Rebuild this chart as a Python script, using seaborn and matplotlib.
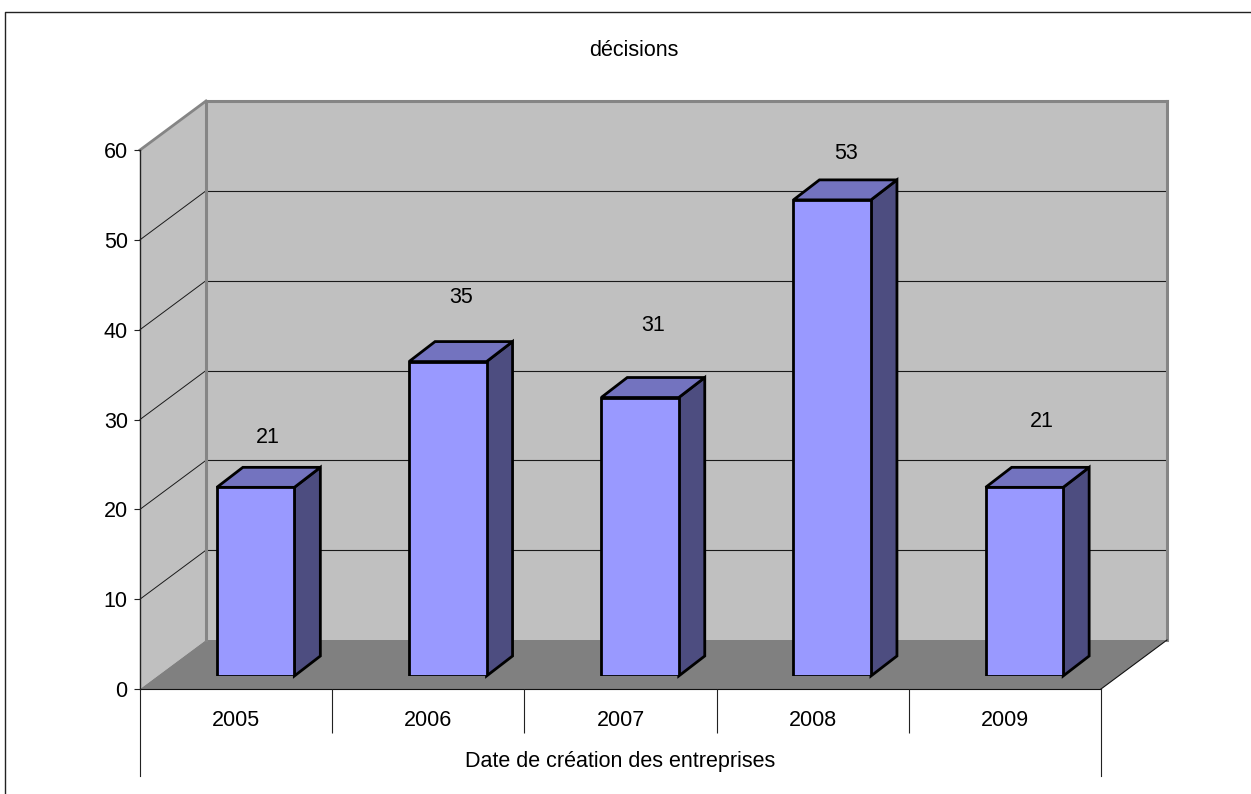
import matplotlib
matplotlib.use("Agg")
import matplotlib.pyplot as plt
from matplotlib.lines import Line2D
from matplotlib.patches import Polygon
from matplotlib.transforms import Affine2D, IdentityTransform
import pandas as pd
import seaborn as sns

# Chart values
years = ["2005", "2006", "2007", "2008", "2009"]
decisions = [21, 35, 31, 53, 21]
y_ticks = [0, 10, 20, 30, 40, 50, 60]
title = "décisions"
x_title = "Date de création des entreprises"

# Label placement relative to each bar's top front centre (pixels)
label_dx = [12, 13, 13, 14, 17]
label_dy = [50, 64, 72, 46, 66]

# Figure and plane geometry (pixels)
W, H = 1251, 794
FRONT_L, FRONT_R, FRONT_T, FRONT_B = 140, 1101, 150, 689
DEPTH_X, DEPTH_Y = 66, 49          # front plane to back wall
BAR_X, BAR_Y = 19.5, 13            # front plane to bar front faces
BAR_DX, BAR_DY = 26, 20            # bar depth
BAR_W = 77.5 / ((FRONT_R - FRONT_L) / 5)

WALL = "#C0C0C0"
FLOOR = "#808080"
EDGE = "#858585"
FACE = "#9999FF"
TOP = "#7373BF"
SIDE = "#4D4D80"
FONT = 15.5
BAR_LW = 2.0
PX = 0.72  # points per pixel at dpi 100

sns.set_theme(style="white")
plt.rcParams["font.family"] = ["Liberation Sans", "DejaVu Sans"]
plt.rcParams["text.color"] = "black"
plt.rcParams["axes.labelcolor"] = "black"

fig = plt.figure(figsize=(W / 100, H / 100), dpi=100, facecolor="white")
to_px = Affine2D().scale(1, -1).translate(0, H)


def axes_rect(left, right, top, bottom):
    return [left / W, (H - bottom) / H, (right - left) / W, (bottom - top) / H]


ax = fig.add_axes(axes_rect(FRONT_L, FRONT_R, FRONT_T, FRONT_B), facecolor="none")
ax.set_xlim(-0.5, 4.5)
ax.set_ylim(0, 60)


def front(x, y):
    return ax.transData.transform((x, y))


def back(x, y):
    return front(x, y) + (DEPTH_X, DEPTH_Y)


def shape(axes, pts, color, z, edge="none", lw=0):
    axes.add_patch(Polygon(pts, closed=True, facecolor=color, edgecolor=edge, linewidth=lw,
                           transform=IdentityTransform(), clip_on=False, zorder=z,
                           joinstyle="miter"))


def segment(axes, a, b, color, lw, z):
    axes.add_line(Line2D([a[0], b[0]], [a[1], b[1]], color=color, linewidth=lw,
                         transform=IdentityTransform(), clip_on=False, zorder=z,
                         solid_capstyle="projecting"))


# Walls and floor
shape(ax, [back(-0.5, 0), back(4.5, 0), back(4.5, 60), back(-0.5, 60)], WALL, 0.1)
shape(ax, [front(-0.5, 0), back(-0.5, 0), back(-0.5, 60), front(-0.5, 60)], WALL, 0.1)
shape(ax, [front(-0.5, 0), back(-0.5, 0), back(4.5, 0), front(4.5, 0)], FLOOR, 0.2)

# Gridlines wrap from the left wall across the back wall
for v in y_ticks[1:-1]:
    segment(ax, front(-0.5, v), back(-0.5, v), "#1a1a1a", 0.7, 0.3)
    segment(ax, back(-0.5, v), back(4.5, v), "#1a1a1a", 0.8, 0.3)

# Heavy grey outline of the walls
segment(ax, back(-0.5, 60), back(4.5, 60), EDGE, 2.2, 0.4)
segment(ax, back(-0.5, 0), back(-0.5, 60), EDGE, 2.2, 0.4)
segment(ax, back(4.5, 0), back(4.5, 60), EDGE, 2.2, 0.4)
segment(ax, front(-0.5, 60), back(-0.5, 60), EDGE, 2.0, 0.4)

# Front floor edge and axis drop lines
segment(ax, front(-0.5, 0), front(4.5, 0), "#111111", 0.8, 0.5)
segment(ax, front(4.5, 0), back(4.5, 0), "#111111", 0.8, 0.5)
segment(ax, front(-0.5, 60), front(-0.5, 0), "#222222", 1.0, 0.5)
for x in (-0.5, 4.5):
    segment(ax, front(x, 0), front(x, 0) - (0, 87), "#222222", 0.8, 0.5)

for s in ax.spines.values():
    s.set_visible(False)
ax.set_yticks(y_ticks)
ax.tick_params(axis="y", left=True, length=6 * PX, width=0.8, color="#222222",
               labelsize=FONT, pad=4.5, labelcolor="black")
ax.set_xticks([0.5, 1.5, 2.5, 3.5], labels=[])
ax.tick_params(axis="x", which="major", bottom=True, length=44 * PX, width=0.8, color="#222222")
ax.set_xticks(range(5), labels=years, minor=True)
ax.tick_params(axis="x", which="minor", bottom=False, length=0, pad=15, labelsize=FONT,
               labelcolor="black")
ax.set_xlabel(x_title, fontsize=FONT, labelpad=36)
ax.xaxis.set_label_coords(0.5, -(762 - FRONT_B) / (FRONT_B - FRONT_T), transform=ax.transAxes)
ax.xaxis.label.set_verticalalignment("center")
ax.grid(False)

# Bars sit on their own axes, moved into the depth of the floor
ax_bars = fig.add_axes(axes_rect(FRONT_L + BAR_X, FRONT_R + BAR_X,
                                 FRONT_T - BAR_Y, FRONT_B - BAR_Y), facecolor="none")
table = pd.DataFrame({"year": years, "decisions": decisions})
sns.barplot(data=table, x="year", y="decisions", ax=ax_bars, color=FACE, saturation=1,
            width=BAR_W, edgecolor="black", linewidth=BAR_LW, zorder=3)
ax_bars.set_xlim(-0.5, 4.5)
ax_bars.set_ylim(0, 60)
ax_bars.axis("off")
fig.canvas.draw()

for bar, v, dx, dy in zip(ax_bars.patches, decisions, label_dx, label_dy):
    x0, x1 = bar.get_x(), bar.get_x() + bar.get_width()
    top = bar.get_height()
    fl = ax_bars.transData.transform((x0, top))
    fr = ax_bars.transData.transform((x1, top))
    br = ax_bars.transData.transform((x1, 0))
    d = (BAR_DX, BAR_DY)
    shape(ax_bars, [fr, fr + d, br + d, br], SIDE, 2.5, "black", BAR_LW)
    shape(ax_bars, [fl, fl + d, fr + d, fr], TOP, 2.5, "black", BAR_LW)
    anchor = (fl + fr) / 2 + (dx, dy)
    ax_bars.text(anchor[0], anchor[1], str(v), transform=IdentityTransform(), ha="center",
                 va="center", fontsize=FONT, color="black", clip_on=False, zorder=5)

fig.text(633.5, 50, title, transform=to_px, ha="center", va="center", fontsize=FONT, color="black")

# Chart area frame: only the top and left edges fall inside the image
fig.add_artist(Line2D([W, 5, 5], [12, 12, H], transform=to_px, color="#222222", linewidth=1.0))

fig.savefig("out.png", dpi=100, facecolor="white")
